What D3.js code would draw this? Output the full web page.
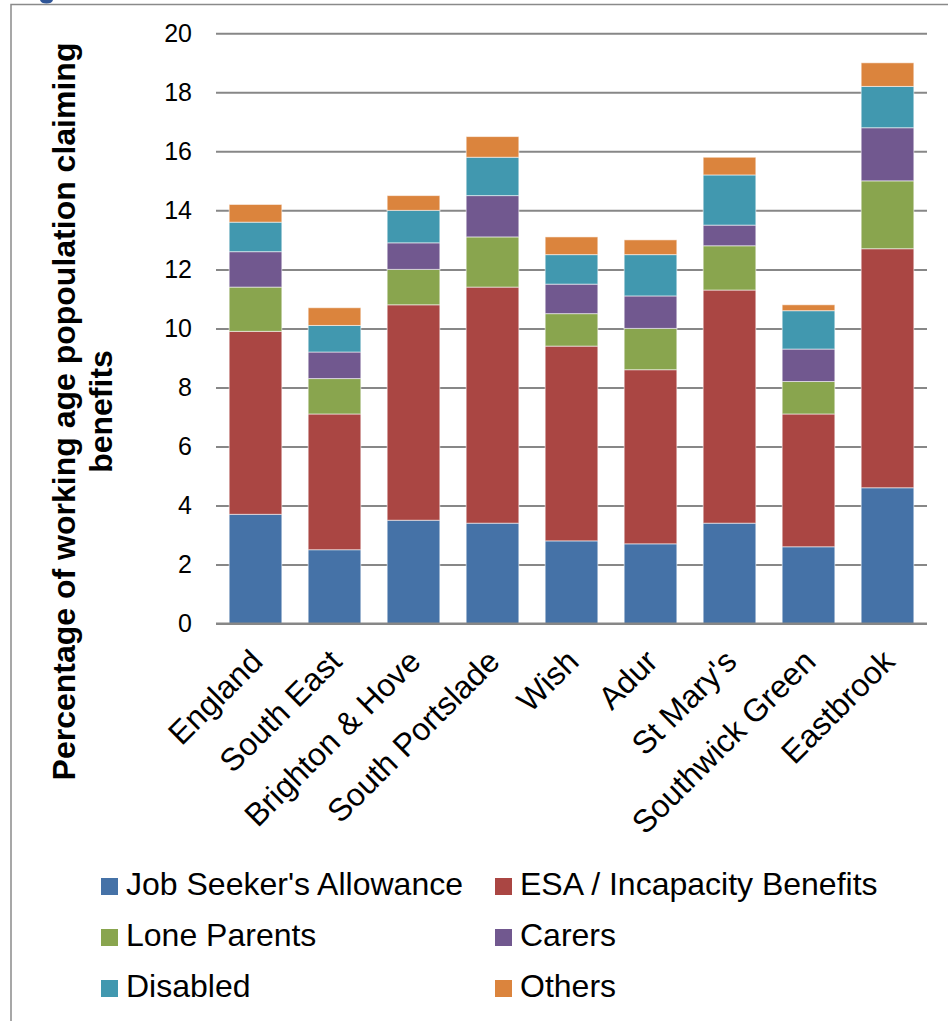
<!DOCTYPE html>
<html>
<head>
<meta charset="utf-8">
<script src="https://cdn.jsdelivr.net/npm/d3@7"></script>
<style>
  body { margin: 0; background: #fff; }
  text { font-family: "Liberation Sans", Arial, sans-serif; }
</style>
</head>
<body>
<div id="chart"></div>
<script>
// categories (areas) and the stacked series
const areas = ["England", "South East", "Brighton & Hove", "South Portslade", "Wish", "Adur", "St Mary's", "Southwick Green", "Eastbrook"];
const seriesNames = ["Job Seeker's Allowance", "ESA / Incapacity Benefits", "Lone Parents", "Carers", "Disabled", "Others"];
const seriesColors = ["#4572A7", "#AA4643", "#89A54E", "#71588F", "#4198AF", "#DB843D"];

const jsa      = [3.7, 2.5, 3.5, 3.4, 2.8, 2.7, 3.4, 2.6, 4.6];
const esa      = [6.2, 4.6, 7.3, 8.0, 6.6, 5.9, 7.9, 4.5, 8.1];
const lone     = [1.5, 1.2, 1.2, 1.7, 1.1, 1.4, 1.5, 1.1, 2.3];
const carers   = [1.2, 0.9, 0.9, 1.4, 1.0, 1.1, 0.7, 1.1, 1.8];
const disabled = [1.0, 0.9, 1.1, 1.3, 1.0, 1.4, 1.7, 1.3, 1.4];
const others   = [0.6, 0.6, 0.5, 0.7, 0.6, 0.5, 0.6, 0.2, 0.8];

const yTicks = [0, 2, 4, 6, 8, 10, 12, 14, 16, 18, 20];

// build the table d3.stack wants
const seriesValues = [jsa, esa, lone, carers, disabled, others];
const table = areas.map((a, i) => {
  const row = { area: a };
  seriesNames.forEach((s, k) => row[s] = seriesValues[k][i]);
  return row;
});

const W = 948, H = 1021;
const plot = { left: 216, right: 927, top: 33.3, bottom: 623.5 };

const svg = d3.select("#chart")
  .append("svg")
    .attr("width", W)
    .attr("height", H);

svg.append("rect")
  .attr("width", W).attr("height", H)
  .attr("fill", "#fff");

// frame of the surrounding figure (top and left edges visible)
svg.append("path")
  .attr("d", `M11,${H} L11,4.5 L${W},4.5`)
  .attr("fill", "none")
  .attr("stroke", "#8a8a8a")
  .attr("stroke-width", 1.5);

// bit of the cut-off figure title peeking in at the top
svg.append("path")
  .attr("d", "M40,0 Q41,3.5 46.5,3.5 Q52,3.5 53,0 Z")
  .attr("fill", "#2f5597");

// scales
const x = d3.scaleBand()
  .domain(areas)
  .range([plot.left, plot.right])
  .paddingInner(1 / 3)
  .paddingOuter(1 / 6);

const y = d3.scaleLinear()
  .domain([0, 20])
  .range([plot.bottom, plot.top]);

// gridlines
const yAxis = svg.append("g")
  .attr("transform", `translate(${plot.left},0)`)
  .call(d3.axisLeft(y).tickValues(yTicks).tickSize(-(plot.right - plot.left)).tickPadding(24));

yAxis.select(".domain").remove();
yAxis.selectAll(".tick line")
  .attr("stroke", "#878787")
  .attr("stroke-width", 2);
yAxis.selectAll(".tick text")
  .attr("font-size", 25)
  .attr("fill", "#000")
  .attr("font-family", "Liberation Sans, Arial, sans-serif");

// stacked bars
const stacked = d3.stack().keys(seriesNames)(table);

svg.append("g")
  .selectAll("g")
  .data(stacked)
  .join("g")
    .attr("fill", (d, i) => seriesColors[i])
  .selectAll("rect")
  .data(d => d)
  .join("rect")
    .attr("x", d => x(d.data.area))
    .attr("y", d => y(d[1]))
    .attr("width", x.bandwidth())
    .attr("height", d => y(d[0]) - y(d[1]))
    .attr("stroke", "#fff")
    .attr("stroke-opacity", 0.55)
    .attr("stroke-width", 1);

// baseline axis
svg.append("line")
  .attr("x1", plot.left).attr("x2", plot.right)
  .attr("y1", y(0)).attr("y2", y(0))
  .attr("stroke", "#878787")
  .attr("stroke-width", 2);

// rotated category labels
svg.append("g")
  .selectAll("text")
  .data(areas)
  .join("text")
    .attr("transform", d => `translate(${x(d) + x.bandwidth() / 2 + 9},${y(0) + 40}) rotate(-45)`)
    .attr("text-anchor", "end")
    .attr("font-size", 32)
    .attr("fill", "#000")
    .text(d => d);

// y axis title, two lines
const yTitle = svg.append("g")
  .attr("transform", "translate(75,411.5) rotate(-90)");
yTitle.append("text")
  .attr("text-anchor", "middle")
  .attr("font-size", 32)
  .attr("font-weight", "bold")
  .text("Percentage of working age popoulation claiming");
yTitle.append("text")
  .attr("y", 37)
  .attr("text-anchor", "middle")
  .attr("font-size", 32)
  .attr("font-weight", "bold")
  .text("benefits");

// legend, two columns, three rows
const legend = svg.append("g")
  .selectAll("g")
  .data(seriesNames)
  .join("g")
    .attr("transform", (d, i) => `translate(${i % 2 === 0 ? 101 : 495},${895 + Math.floor(i / 2) * 51})`);

legend.append("rect")
  .attr("x", 0).attr("y", -17)
  .attr("width", 17).attr("height", 17)
  .attr("fill", (d, i) => seriesColors[i]);

legend.append("text")
  .attr("x", 25)
  .attr("font-size", 32)
  .attr("fill", "#000")
  .text(d => d);
</script>
</body>
</html>
